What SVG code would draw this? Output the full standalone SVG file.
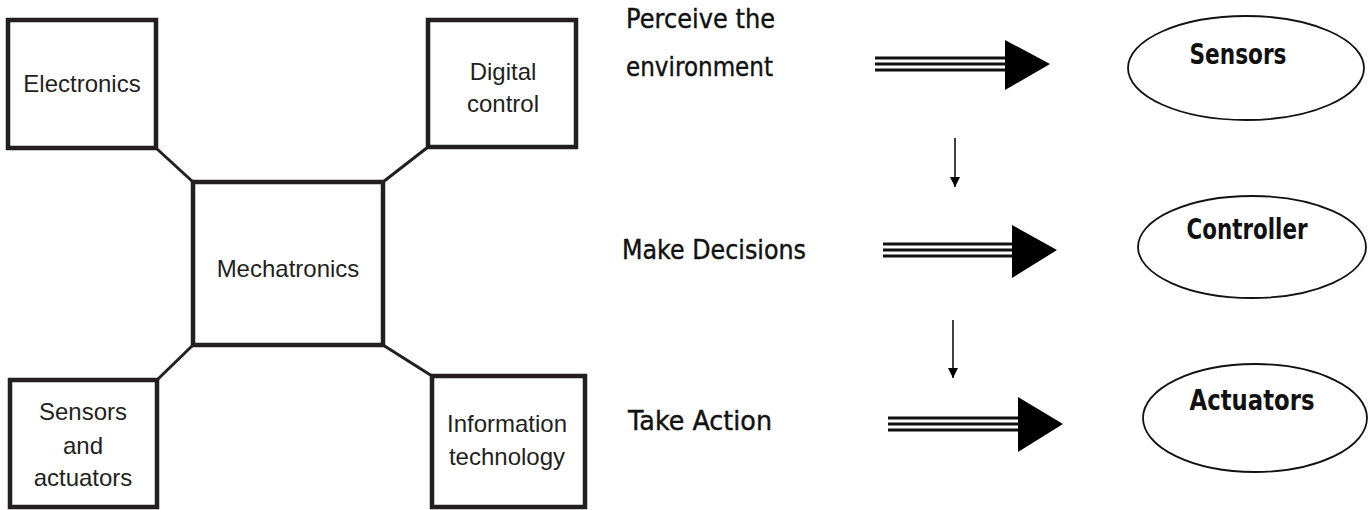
<svg xmlns="http://www.w3.org/2000/svg" width="1370" height="510" viewBox="0 0 1370 510">
  <defs>
    <style>
      .box { fill: #ffffff; stroke: #231f20; stroke-width: 4.5; }
      .link { stroke: #231f20; stroke-width: 3; fill: none; }
      .lbl { font-family: "Liberation Sans", Arial, sans-serif; font-size: 24px; fill: #231f20; text-anchor: middle; }
      .step { font-family: "DejaVu Sans", "Liberation Sans", sans-serif; font-size: 26px; fill: #111; stroke: #111; stroke-width: 0.4; }
      .ell { fill: #ffffff; stroke: #111; stroke-width: 1.8; }
      .ellt { font-family: "DejaVu Sans", "Liberation Sans", sans-serif; font-size: 28px; font-weight: bold; fill: #111; text-anchor: middle; }
      .tri { fill: #000; }
      .bar { stroke: #111; stroke-width: 3; }
      .thin { stroke: #111; stroke-width: 1.6; }
    </style>
    <marker id="ah" viewBox="0 0 10 10" refX="10" refY="5" markerWidth="10" markerHeight="12" markerUnits="userSpaceOnUse" orient="auto">
      <path d="M0,0 L10,5 L0,10 Z" fill="#000"/>
    </marker>
  </defs>
  <rect width="1370" height="510" fill="#ffffff"/>

  <g id="connectors">
    <line class="link" x1="156" y1="148" x2="193" y2="182"/>
    <line class="link" x1="428" y1="147" x2="383" y2="182"/>
    <line class="link" x1="193" y1="345" x2="157" y2="380"/>
    <line class="link" x1="383" y1="345" x2="432" y2="376"/>
    <g id="arrow1">
      <line class="bar" x1="875" y1="58" x2="1008" y2="58"/>
      <line class="bar" x1="875" y1="64" x2="1008" y2="64"/>
      <line class="bar" x1="875" y1="70" x2="1008" y2="70"/>
      <polygon class="tri" points="1005,40 1050,64 1005,90"/>
    </g>
    <g id="arrow2">
      <line class="bar" x1="883" y1="244" x2="1015" y2="244"/>
      <line class="bar" x1="883" y1="250" x2="1015" y2="250"/>
      <line class="bar" x1="883" y1="256" x2="1015" y2="256"/>
      <polygon class="tri" points="1012,225 1057,250 1012,278"/>
    </g>
    <g id="arrow3">
      <line class="bar" x1="888" y1="418" x2="1021" y2="418"/>
      <line class="bar" x1="888" y1="424" x2="1021" y2="424"/>
      <line class="bar" x1="888" y1="430" x2="1021" y2="430"/>
      <polygon class="tri" points="1018,397 1063,424 1018,452"/>
    </g>
    <line class="thin" x1="955" y1="138" x2="955" y2="187" marker-end="url(#ah)"/>
    <line class="thin" x1="953" y1="320" x2="953" y2="378" marker-end="url(#ah)"/>
  </g>

  <g id="electronics">
    <rect class="box" x="8" y="20" width="148" height="128"/>
    <text class="lbl" x="82" y="92">Electronics</text>
  </g>
  <g id="digital-control">
    <rect class="box" x="428" y="20" width="148" height="127"/>
    <text class="lbl" x="503" y="80">Digital</text>
    <text class="lbl" x="503" y="112">control</text>
  </g>
  <g id="mechatronics">
    <rect class="box" x="193" y="182" width="190" height="163"/>
    <text class="lbl" x="288" y="277">Mechatronics</text>
  </g>
  <g id="sensors-actuators">
    <rect class="box" x="10" y="380" width="147" height="127"/>
    <text class="lbl" x="83" y="420">Sensors</text>
    <text class="lbl" x="83" y="454">and</text>
    <text class="lbl" x="83" y="486">actuators</text>
  </g>
  <g id="information-technology">
    <rect class="box" x="432" y="376" width="153" height="131"/>
    <text class="lbl" x="507" y="432">Information</text>
    <text class="lbl" x="507" y="465">technology</text>
  </g>

  <g id="perceive">
    <text class="step" x="626" y="28" textLength="149" lengthAdjust="spacingAndGlyphs">Perceive the</text>
    <text class="step" x="626" y="76" textLength="147" lengthAdjust="spacingAndGlyphs">environment</text>
  </g>
  <g id="decide">
    <text class="step" x="622" y="259" textLength="184" lengthAdjust="spacingAndGlyphs">Make Decisions</text>
  </g>
  <g id="act">
    <text class="step" x="628" y="430" textLength="144" lengthAdjust="spacingAndGlyphs">Take Action</text>
  </g>

  <g id="sensors">
    <ellipse class="ell" cx="1246" cy="68" rx="118" ry="52"/>
    <text class="ellt" x="1238" y="64" textLength="97" lengthAdjust="spacingAndGlyphs">Sensors</text>
  </g>
  <g id="controller">
    <ellipse class="ell" cx="1252" cy="247" rx="114" ry="51"/>
    <text class="ellt" x="1247" y="239" textLength="121" lengthAdjust="spacingAndGlyphs">Controller</text>
  </g>
  <g id="actuators">
    <ellipse class="ell" cx="1255" cy="418" rx="112" ry="54"/>
    <text class="ellt" x="1252" y="410" textLength="125" lengthAdjust="spacingAndGlyphs">Actuators</text>
  </g>
</svg>
